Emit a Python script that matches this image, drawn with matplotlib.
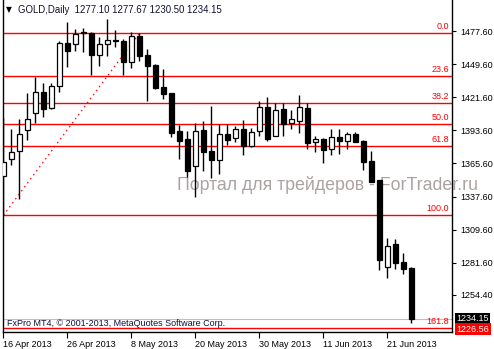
import matplotlib
matplotlib.use('Agg')
import matplotlib.pyplot as plt
import numpy as np

# ---- data (daily GOLD candles, 16 Apr 2013 .. 26 Jun 2013) ----
opens = [1355.3, 1369.4, 1376.4, 1393.6, 1408.0, 1425.8, 1412.8, 1430.9, 1467.2, 1466.4,
         1476.5, 1475.7, 1457.1, 1466.4, 1470.1, 1468.9, 1451.7, 1473.2, 1457.1, 1448.6,
         1430.0, 1424.9, 1392.8, 1386.0, 1363.2, 1393.9, 1376.4, 1368.3, 1390.5, 1386.9,
         1394.8, 1380.1, 1392.8, 1413.4, 1388.6, 1411.7, 1399.6, 1401.5, 1412.2, 1383.5,
         1386.0, 1377.5, 1387.7, 1384.9, 1390.2, 1384.3, 1367.7, 1351.6, 1278.3, 1297.5,
         1282.2, 1277.10]
highs = [1403.8, 1394.5, 1402.9, 1424.9, 1438.5, 1433.4, 1433.4, 1468.9, 1485.0, 1479.1,
         1480.2, 1476.5, 1472.9, 1487.5, 1478.5, 1470.9, 1476.5, 1475.65, 1462.2, 1449.5,
         1445.2, 1424.9, 1397.9, 1393.1, 1399.6, 1401.5, 1414.2, 1398.7, 1398.7, 1397.0,
         1402.1, 1395.6, 1418.5, 1421.8, 1416.8, 1416.8, 1410.6, 1423.5, 1416.5, 1388.8,
         1387.4, 1394.5, 1394.5, 1392.5, 1391.9, 1385.4, 1376.1, 1351.6, 1302.5, 1302.0,
         1289.8, 1277.67]
lows = [1321.7, 1364.6, 1335.5, 1385.2, 1400.1, 1404.6, 1412.0, 1426.3, 1447.5, 1461.0,
        1460.2, 1440.2, 1448.3, 1456.5, 1463.9, 1440.2, 1446.7, 1452.6, 1418.7, 1428.9,
        1420.4, 1388.3, 1369.1, 1354.4, 1337.5, 1359.5, 1353.6, 1356.4, 1381.5, 1384.1,
        1373.1, 1379.8, 1388.8, 1384.3, 1388.6, 1388.6, 1395.1, 1391.1, 1377.5, 1375.6,
        1365.7, 1373.0, 1373.9, 1378.1, 1383.7, 1360.1, 1350.2, 1275.5, 1269.0, 1276.0,
        1272.1, 1230.50]
closes = [1366.6, 1375.6, 1390.3, 1403.2, 1425.8, 1412.0, 1430.9, 1467.2, 1461.0, 1474.9,
          1475.7, 1457.1, 1466.4, 1469.8, 1468.9, 1451.7, 1473.2, 1456.8, 1448.3, 1429.7,
          1424.7, 1391.7, 1384.9, 1359.2, 1392.8, 1375.6, 1368.8, 1390.5, 1385.5, 1394.8,
          1380.1, 1392.2, 1413.4, 1386.6, 1410.8, 1399.0, 1403.0, 1413.1, 1382.6, 1386.0,
          1377.3, 1388.3, 1384.9, 1390.2, 1384.0, 1367.1, 1350.2, 1284.0, 1295.8, 1281.7,
          1276.6, 1234.15]

date_tick_bars = [0, 8, 16, 24, 32, 40, 48]
date_tick_labels = ['16 Apr 2013', '26 Apr 2013', '8 May 2013', '20 May 2013',
                    '30 May 2013', '11 Jun 2013', '21 Jun 2013']
price_ticks = [1477.60, 1449.60, 1421.60, 1393.60, 1365.60, 1337.60, 1309.60, 1281.60, 1254.40]

fib_low_bar, fib_low = 0, 1321.70
fib_high_bar, fib_high = 17, 1475.65
fib_levels = [0.0, 23.6, 38.2, 50.0, 61.8, 100.0, 161.8]

symbol = 'GOLD,Daily'
watermark = 'Портал для трейдеров - ForTrader.ru'
copyright_txt = 'FxPro MT4, © 2001-2013, MetaQuotes Software Corp.'

# ---- figure ----
W, H = 494, 349
fig = plt.figure(figsize=(W / 100, H / 100), dpi=100)
plt.rcParams['font.family'] = ['Liberation Sans', 'DejaVu Sans']

ax_l, ax_r, ax_t, ax_b = 3, 452, 0, 332
ax = fig.add_axes([ax_l / W, 1 - ax_b / H, (ax_r - ax_l) / W, (ax_b - ax_t) / H])
ax.set_xlim(-0.04, 56.09)
ax.set_ylim(1223.0, 1503.9)

x = np.arange(len(opens))
o = np.array(opens); c = np.array(closes); h = np.array(highs); l = np.array(lows)
up = c >= o

# fib lines
rng = fib_high - fib_low
for lev in fib_levels:
    price = fib_high - rng * lev / 100.0
    ax.axhline(price, color='#ff0000', lw=1.0, zorder=1)
    ax.annotate(f'{lev:.1f}', xy=(1.0, price), xycoords=('axes fraction', 'data'),
                xytext=(-2, 1.5), textcoords='offset points', ha='right', va='bottom',
                color='#ff0000', fontsize=6.5, zorder=6)
# diagonal trend line
ax.plot([fib_low_bar, fib_high_bar], [fib_low, fib_high], color='#ff0000', lw=0.8,
        linestyle=(0, (1.5, 3)), zorder=1)

# bid line
ax.axhline(closes[-1], color='#c0c0c0', lw=0.8, zorder=1)

# watermark (behind the candles)
ax.text((177 - ax_l) / (ax_r - ax_l), 1 - 184.5 / (ax_b - ax_t), watermark,
        transform=ax.transAxes, fontsize=12.8, color='#aca2a2', ha='left',
        va='center', zorder=2, clip_on=False)

# candles
ax.vlines(x, l, h, color='black', lw=1.0, zorder=3)
body_w = 0.62
bottoms = np.minimum(o, c)
heights = np.maximum(np.abs(c - o), 0.5)
ax.bar(x[up], heights[up], bottom=bottoms[up], width=body_w, facecolor='white',
       edgecolor='black', linewidth=0.9, zorder=4)
ax.bar(x[~up], heights[~up], bottom=bottoms[~up], width=body_w, facecolor='black',
       edgecolor='black', linewidth=0.9, zorder=4)

# axes styling
ax.spines['top'].set_visible(False)
for s in ['left', 'right', 'bottom']:
    ax.spines[s].set_linewidth(1.0)
    ax.spines[s].set_color('black')

ax.yaxis.tick_right()
ax.set_yticks(price_ticks)
ax.set_yticklabels([f'{v:.2f}' for v in price_ticks])
ax.tick_params(axis='y', direction='out', length=3, width=0.8, pad=3, labelsize=6.5)
ax.set_xticks(date_tick_bars)
ax.set_xticklabels(date_tick_labels)
ax.tick_params(axis='x', direction='out', length=4, width=0.8, pad=2, labelsize=6.5)
for lbl in ax.get_xticklabels():
    lbl.set_horizontalalignment('left')

# price boxes on the right axis
ax.annotate(f'{closes[-1]:.2f}', xy=(1.0, closes[-1]), xycoords=('axes fraction', 'data'),
            xytext=(3, 0), textcoords='offset points', ha='left', va='center',
            color='white', fontsize=6.5, zorder=7, annotation_clip=False,
            bbox=dict(boxstyle='square,pad=0.18', fc='black', ec='none'))
lvl161 = fib_high - rng * 1.618
ax.annotate(f'{lvl161:.2f}', xy=(1.0, lvl161), xycoords=('axes fraction', 'data'),
            xytext=(3, -1), textcoords='offset points', ha='left', va='center',
            color='white', fontsize=6.5, zorder=7, annotation_clip=False,
            bbox=dict(boxstyle='square,pad=0.18', fc='#ff0000', ec='none'))

# header
fig.text(6 / W, 1 - 10 / H, '▼', fontsize=5.5, color='black', ha='left', va='center',
         family=['DejaVu Sans'])
hdr = f'{symbol}  {opens[-1]:.2f} {highs[-1]:.2f} {lows[-1]:.2f} {closes[-1]:.2f}'
fig.text(18 / W, 1 - 10 / H, hdr, fontsize=6.9, color='#101030', ha='left', va='center')

# copyright
fig.text(7 / W, 1 - 324 / H, copyright_txt, fontsize=6.5, color='#101040',
         ha='left', va='center')

fig.savefig('out.png', dpi=100)
